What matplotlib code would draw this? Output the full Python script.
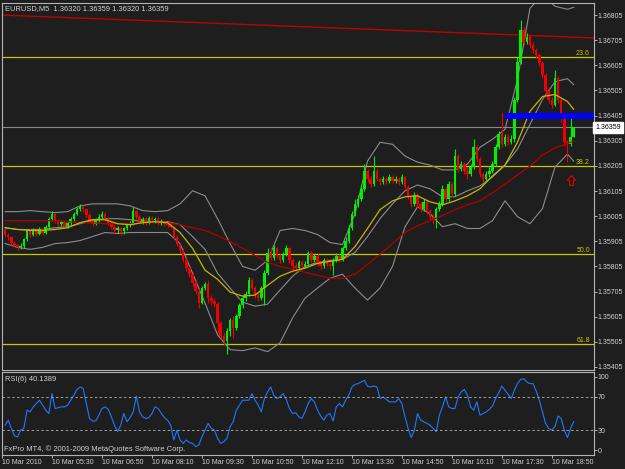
"""EURUSD M5 chart: candles, Bollinger bands, moving averages, Fibonacci levels and RSI(6)."""

import matplotlib

matplotlib.use("Agg")
import matplotlib.pyplot as plt
import numpy as np

plt.rcParams["font.family"] = ["Liberation Sans", "DejaVu Sans"]

# ---- price data (M5 bars) ---------------------------------------------------
first_open = 1.35948
closes = [
    1.35932, 1.35924, 1.35900, 1.35892, 1.35881, 1.35888, 1.35916, 1.35944, 1.35932, 1.35948,
    1.35936, 1.35952, 1.35940, 1.35963, 1.35995, 1.36015, 1.35987, 1.35975, 1.35983, 1.35967,
    1.35979, 1.35995, 1.36015, 1.36035, 1.36042, 1.36035, 1.36011, 1.35987, 1.35975, 1.35991,
    1.36003, 1.36015, 1.35995, 1.35979, 1.35963, 1.35948, 1.35959, 1.35944, 1.35956, 1.35971,
    1.35979, 1.36027, 1.36003, 1.35987, 1.35995, 1.35983, 1.35999, 1.35991, 1.35995, 1.35979,
    1.35987, 1.35975, 1.35971, 1.35963, 1.35924, 1.35896, 1.35869, 1.35829, 1.35798, 1.35774,
    1.35738, 1.35707, 1.35659, 1.35719, 1.35734, 1.35679, 1.35667, 1.35655, 1.35580, 1.35529,
    1.35509, 1.35549, 1.35592, 1.35561, 1.35608, 1.35651, 1.35679, 1.35695, 1.35750, 1.35719,
    1.35691, 1.35679, 1.35719, 1.35778, 1.35857, 1.35837, 1.35877, 1.35845, 1.35829, 1.35853,
    1.35877, 1.35829, 1.35805, 1.35798, 1.35821, 1.35805, 1.35813, 1.35857, 1.35829, 1.35845,
    1.35817, 1.35805, 1.35829, 1.35813, 1.35805, 1.35829, 1.35845, 1.35829, 1.35877, 1.35908,
    1.35956, 1.36015, 1.36054, 1.36074, 1.36114, 1.36185, 1.36153, 1.36133, 1.36185, 1.36153,
    1.36141, 1.36153, 1.36145, 1.36161, 1.36145, 1.36153, 1.36141, 1.36161, 1.36121, 1.36082,
    1.36054, 1.36090, 1.36054, 1.36035, 1.36062, 1.36027, 1.36003, 1.35991, 1.36035, 1.36054,
    1.36114, 1.36074, 1.36133, 1.36094, 1.36244, 1.36193, 1.36212, 1.36185, 1.36173, 1.36200,
    1.36279, 1.36232, 1.36173, 1.36153, 1.36173, 1.36185, 1.36212, 1.36279, 1.36331, 1.36291,
    1.36319, 1.36299, 1.36311, 1.36469, 1.36619, 1.36746, 1.36698, 1.36718, 1.36686, 1.36667,
    1.36647, 1.36615, 1.36568, 1.36501, 1.36469, 1.36449, 1.36556, 1.36469, 1.36390, 1.36299,
    1.36291, 1.36320, 1.36359,
]
highs = [
    1.35956, 1.35940, 1.35928, 1.35908, 1.35896, 1.35900, 1.35920, 1.35952, 1.35956, 1.35956,
    1.35952, 1.35963, 1.35959, 1.35971, 1.36003, 1.36027, 1.36019, 1.35995, 1.35991, 1.35987,
    1.35987, 1.36003, 1.36023, 1.36042, 1.36054, 1.36050, 1.36038, 1.36019, 1.35995, 1.35999,
    1.36015, 1.36027, 1.36023, 1.36003, 1.35987, 1.35971, 1.35967, 1.35963, 1.35963, 1.35979,
    1.35987, 1.36042, 1.36031, 1.36011, 1.36003, 1.36003, 1.36007, 1.36007, 1.36003, 1.36003,
    1.35995, 1.35991, 1.35983, 1.35979, 1.35967, 1.35932, 1.35900, 1.35877, 1.35837, 1.35805,
    1.35782, 1.35746, 1.35715, 1.35726, 1.35742, 1.35750, 1.35691, 1.35679, 1.35663, 1.35588,
    1.35541, 1.35561, 1.35600, 1.35608, 1.35616, 1.35659, 1.35691, 1.35707, 1.35762, 1.35758,
    1.35726, 1.35703, 1.35726, 1.35790, 1.35877, 1.35877, 1.35892, 1.35884, 1.35857, 1.35861,
    1.35892, 1.35884, 1.35837, 1.35817, 1.35829, 1.35829, 1.35825, 1.35865, 1.35865, 1.35853,
    1.35853, 1.35825, 1.35837, 1.35837, 1.35821, 1.35837, 1.35857, 1.35853, 1.35888, 1.35924,
    1.35971, 1.36027, 1.36074, 1.36090, 1.36129, 1.36212, 1.36193, 1.36165, 1.36244, 1.36193,
    1.36161, 1.36165, 1.36161, 1.36173, 1.36169, 1.36165, 1.36161, 1.36173, 1.36165, 1.36129,
    1.36090, 1.36102, 1.36098, 1.36062, 1.36074, 1.36070, 1.36035, 1.36015, 1.36042, 1.36066,
    1.36129, 1.36121, 1.36145, 1.36141, 1.36272, 1.36252, 1.36224, 1.36220, 1.36200, 1.36212,
    1.36311, 1.36287, 1.36240, 1.36181, 1.36185, 1.36200, 1.36224, 1.36291, 1.36343, 1.36418,
    1.36331, 1.36331, 1.36327, 1.36481, 1.36639, 1.36785, 1.36757, 1.36734, 1.36726, 1.36698,
    1.36674, 1.36655, 1.36623, 1.36576, 1.36509, 1.36481, 1.36588, 1.36564, 1.36477, 1.36398,
    1.36307, 1.36410, 1.36359,
]
lows = [
    1.35924, 1.35912, 1.35892, 1.35881, 1.35869, 1.35873, 1.35877, 1.35908, 1.35924, 1.35928,
    1.35928, 1.35932, 1.35932, 1.35936, 1.35956, 1.35987, 1.35979, 1.35967, 1.35967, 1.35959,
    1.35956, 1.35971, 1.35987, 1.36011, 1.36027, 1.36023, 1.36003, 1.35979, 1.35967, 1.35971,
    1.35983, 1.35995, 1.35987, 1.35971, 1.35952, 1.35936, 1.35940, 1.35932, 1.35936, 1.35948,
    1.35963, 1.35971, 1.35995, 1.35979, 1.35975, 1.35971, 1.35975, 1.35983, 1.35979, 1.35971,
    1.35971, 1.35967, 1.35963, 1.35956, 1.35916, 1.35888, 1.35857, 1.35821, 1.35786, 1.35762,
    1.35726, 1.35695, 1.35640, 1.35655, 1.35711, 1.35659, 1.35651, 1.35643, 1.35541, 1.35517,
    1.35493, 1.35458, 1.35529, 1.35521, 1.35553, 1.35600, 1.35640, 1.35667, 1.35687, 1.35711,
    1.35679, 1.35667, 1.35671, 1.35651, 1.35770, 1.35829, 1.35829, 1.35837, 1.35817, 1.35821,
    1.35845, 1.35817, 1.35790, 1.35786, 1.35790, 1.35794, 1.35798, 1.35805, 1.35821, 1.35821,
    1.35805, 1.35794, 1.35798, 1.35805, 1.35794, 1.35770, 1.35821, 1.35821, 1.35825, 1.35869,
    1.35900, 1.35948, 1.36007, 1.36042, 1.36066, 1.36106, 1.36141, 1.36121, 1.36125, 1.36145,
    1.36129, 1.36133, 1.36133, 1.36137, 1.36137, 1.36137, 1.36129, 1.36133, 1.36114, 1.36074,
    1.36042, 1.36046, 1.36042, 1.36023, 1.36027, 1.36015, 1.35991, 1.35975, 1.35956, 1.36027,
    1.36046, 1.36062, 1.36066, 1.36082, 1.36086, 1.36181, 1.36185, 1.36173, 1.36153, 1.36165,
    1.36193, 1.36220, 1.36161, 1.36141, 1.36145, 1.36161, 1.36177, 1.36204, 1.36272, 1.36279,
    1.36283, 1.36287, 1.36291, 1.36299, 1.36461, 1.36611, 1.36686, 1.36690, 1.36674, 1.36655,
    1.36635, 1.36603, 1.36556, 1.36489, 1.36457, 1.36437, 1.36442, 1.36457, 1.36378, 1.36283,
    1.36220, 1.36283, 1.36320,
]

# ---- indicator lines, read every 4th bar (plus the last bar) ----------------
ind_bars = list(range(0, 181, 4)) + [182]
fast_ma = [
    1.35959, 1.35952, 1.35948, 1.35948, 1.35952, 1.35959, 1.35979, 1.35991, 1.35991, 1.35975,
    1.35971, 1.35979, 1.35983, 1.35979, 1.35940, 1.35877, 1.35790, 1.35754, 1.35703, 1.35687,
    1.35691, 1.35730, 1.35766, 1.35786, 1.35798, 1.35817, 1.35825, 1.35833, 1.35884, 1.35956,
    1.36031, 1.36066, 1.36082, 1.36086, 1.36062, 1.36050, 1.36066, 1.36086, 1.36114, 1.36165,
    1.36208, 1.36299, 1.36422, 1.36481, 1.36489, 1.36461, 1.36430,
]
slow_ma = [
    1.35987, 1.35987, 1.35987, 1.35987, 1.35987, 1.35983, 1.35979, 1.35979, 1.35975, 1.35975,
    1.35975, 1.35979, 1.35983, 1.35979, 1.35971, 1.35959, 1.35948, 1.35928, 1.35904, 1.35877,
    1.35849, 1.35821, 1.35805, 1.35794, 1.35782, 1.35770, 1.35758, 1.35758, 1.35774, 1.35813,
    1.35853, 1.35896, 1.35940, 1.35967, 1.35987, 1.36007, 1.36031, 1.36050, 1.36066, 1.36098,
    1.36133, 1.36169, 1.36204, 1.36248, 1.36276, 1.36295, 1.36303,
]
bb_upper = [
    1.36023, 1.36023, 1.36027, 1.36023, 1.36019, 1.36023, 1.36046, 1.36054, 1.36054, 1.36054,
    1.36046, 1.36027, 1.36023, 1.36027, 1.36054, 1.36106, 1.36086, 1.35995, 1.35896, 1.35805,
    1.35790, 1.35829, 1.35948, 1.35956, 1.35948, 1.35932, 1.35900, 1.35892, 1.36015, 1.36224,
    1.36299, 1.36291, 1.36244, 1.36220, 1.36208, 1.36189, 1.36189, 1.36212, 1.36279, 1.36311,
    1.36350, 1.36548, 1.36832, 1.36884, 1.36840, 1.36828, 1.36836,
]
bb_middle = [
    1.35959, 1.35952, 1.35952, 1.35952, 1.35959, 1.35963, 1.35975, 1.35987, 1.35995, 1.35995,
    1.35991, 1.35983, 1.35983, 1.35983, 1.35971, 1.35924, 1.35873, 1.35778, 1.35719, 1.35663,
    1.35647, 1.35655, 1.35711, 1.35766, 1.35805, 1.35821, 1.35829, 1.35833, 1.35861, 1.35924,
    1.35995, 1.36054, 1.36106, 1.36129, 1.36114, 1.36082, 1.36082, 1.36106, 1.36125, 1.36161,
    1.36208, 1.36272, 1.36370, 1.36469, 1.36540, 1.36552, 1.36528,
]
bb_lower = [
    1.35896, 1.35881, 1.35873, 1.35881, 1.35896, 1.35900, 1.35908, 1.35924, 1.35940, 1.35936,
    1.35940, 1.35940, 1.35940, 1.35940, 1.35896, 1.35778, 1.35659, 1.35533, 1.35474, 1.35470,
    1.35481, 1.35466, 1.35501, 1.35600, 1.35679, 1.35719, 1.35758, 1.35774, 1.35719, 1.35671,
    1.35719, 1.35805, 1.35963, 1.36042, 1.36015, 1.35963, 1.35975, 1.35956, 1.35956, 1.35987,
    1.36066, 1.36003, 1.35975, 1.36035, 1.36200, 1.36252, 1.36224,
]

# ---- RSI(6), one value per bar ---------------------------------------------
rsi = [
    36, 42, 32, 23, 22, 30, 32, 54, 52, 58,
    62, 66, 60, 54, 50, 74, 56, 57, 58, 58,
    60, 66, 72, 79, 82, 80, 62, 44, 41, 41,
    48, 56, 58, 55, 46, 36, 28, 36, 50, 40,
    45, 52, 71, 52, 46, 44, 45, 50, 58, 56,
    50, 45, 42, 36, 18, 30, 18, 14, 18, 15,
    14, 10, 12, 22, 30, 38, 32, 30, 20, 14,
    16, 20, 34, 40, 54, 60, 66, 66, 66, 74,
    66, 60, 52, 68, 76, 82, 72, 68, 70, 74,
    67, 56, 50, 51, 46, 44, 52, 62, 68, 64,
    54, 47, 42, 48, 50, 41, 58, 62, 58, 66,
    72, 82, 85, 86, 88, 90, 83, 82, 83, 82,
    68, 70, 67, 64, 64, 64, 68, 62, 46, 32,
    21, 30, 50, 42, 40, 38, 36, 32, 28, 48,
    58, 70, 58, 56, 56, 70, 76, 79, 72, 58,
    54, 64, 48, 50, 52, 55, 59, 68, 75, 83,
    78, 73, 68, 78, 86, 91, 92, 88, 86, 86,
    77, 66, 52, 38, 32, 30, 34, 47, 44, 30,
    21, 32, 40.1389,
]
rsi_levels = [70, 30]
rsi_scale = ["100", "70", "30", "0"]

# ---- drawn objects ---------------------------------------------------------
fib_labels = ["23.6", "38.2", "50.0", "61.8"]
fib_prices = [1.36639, 1.36204, 1.35853, 1.35497]
trend_bars = [-1, 188.5]
trend_prices = [1.36805, 1.36714]
zone_start_bar = 160
zone_prices = [1.36390, 1.36414]
arrow_bar = 181
arrow_price = 1.36149

time_bars = [-1, 15, 31, 47, 63, 79, 95, 111, 127, 143, 159, 175]
time_labels = [
    "10 Mar 2010", "10 Mar 05:30", "10 Mar 06:50", "10 Mar 08:10",
    "10 Mar 09:30", "10 Mar 10:50", "10 Mar 12:10", "10 Mar 13:30",
    "10 Mar 14:50", "10 Mar 16:10", "10 Mar 17:30", "10 Mar 18:50",
]
price_ticks = [round(1.36805 - 0.001 * k, 5) for k in range(15)]

# ---- colours ---------------------------------------------------------------
BG = "#1e1e1e"
FRAME = "#b4b4b4"
TEXT = "#d2d2d2"
UP = "#00f000"
DOWN = "#f00000"
YELLOW = "#c8c800"
GRAY = "#8c8c8c"
FS = 5.0

W, H = 625, 469
fig = plt.figure(figsize=(W / 100, H / 100), dpi=100, facecolor=BG)


def px_axes(left, top, right, bottom):
    return fig.add_axes([left / W, 1 - bottom / H, (right - left) / W, (bottom - top) / H])


ax = px_axes(2, 3, 594, 370)
rax = px_axes(2, 372, 594, 455)

for a in (ax, rax):
    a.set_facecolor(BG)
    for sp in a.spines.values():
        sp.set_color(FRAME)
        sp.set_linewidth(0.8)
    a.set_xlim(-1, 188.5)
    a.yaxis.tick_right()
    a.tick_params(axis="both", colors=FRAME, labelcolor=TEXT, labelsize=FS,
                  length=2, width=0.7, direction="out", pad=0.8)

# candles
closes_a = np.array(closes)
opens_a = np.r_[first_open, closes_a[:-1]]
highs_a = np.maximum(np.array(highs), np.maximum(opens_a, closes_a))
lows_a = np.minimum(np.array(lows), np.minimum(opens_a, closes_a))
bars = np.arange(len(closes_a))
cols = np.where(closes_a >= opens_a, UP, DOWN)

# fibonacci levels and lines behind the candles
for lab, p in zip(fib_labels, fib_prices):
    ax.axhline(p, color=YELLOW, lw=0.9, zorder=1)
    ax.text(0.993, p, lab, transform=ax.get_yaxis_transform(), color=YELLOW,
            fontsize=FS, ha="right", va="bottom")

ax.plot(trend_bars, trend_prices, color="#c00000", lw=1.0, zorder=2)
ax.plot(ind_bars, bb_upper, color=GRAY, lw=0.8, zorder=2)
ax.plot(ind_bars, bb_middle, color=GRAY, lw=0.8, zorder=2)
ax.plot(ind_bars, bb_lower, color=GRAY, lw=0.8, zorder=2)

ax.vlines(bars, lows_a, highs_a, colors=cols, lw=0.8, zorder=3)
body_low = np.minimum(opens_a, closes_a)
body_h = np.maximum(np.abs(closes_a - opens_a), 0.00003)
ax.bar(bars, body_h, bottom=body_low, width=0.8, color=cols, linewidth=0, zorder=3)

ax.plot(ind_bars, slow_ma, color="#b40000", lw=0.9, zorder=4)
ax.plot(ind_bars, fast_ma, color="#c8b400", lw=0.9, zorder=4)

# blue zone, bid line and price tag
ax.fill_between([zone_start_bar, 188.5], zone_prices[0], zone_prices[1],
                color="#0000ff", lw=0, zorder=5)
last = closes[-1]
ax.axhline(last, color="#8a8a8a", lw=0.8, zorder=2)
ax.text(1.002, last, f"{last:.5f}", transform=ax.get_yaxis_transform(),
        fontsize=FS, color="black", va="center", ha="left", clip_on=False,
        bbox=dict(boxstyle="square,pad=0.3", fc="white", ec="white"))

# up-arrow mark below the last bars
arrow = [(0, 1), (-0.9, 0.05), (-0.4, 0.05), (-0.4, -1), (0.4, -1), (0.4, 0.05), (0.9, 0.05), (0, 1)]
ax.plot([arrow_bar], [arrow_price], marker=arrow, markersize=7, markerfacecolor="none",
        markeredgecolor="#e00000", markeredgewidth=0.8, linestyle="none", zorder=6)

ax.set_ylim(1.35393, 1.36853)
ax.set_yticks(price_ticks)
ax.set_yticklabels([f"{p:.5f}" for p in price_ticks])
ax.set_xticks([])

# RSI panel
rax.plot(bars, rsi, color="#1e78ff", lw=0.8)
for lvl in rsi_levels:
    rax.axhline(lvl, color="#a0a0a0", lw=0.7, linestyle=(0, (2.5, 2.5)))
rax.set_ylim(0, 100)
rax.set_yticks([94, 70, 30, 6])
rax.set_yticklabels(rsi_scale)
rax.set_xticks(time_bars)
rax.set_xticklabels(time_labels, ha="left")

# header texts
o, h, l, c = opens_a[-1], highs_a[-1], lows_a[-1], closes_a[-1]
fig.text(5 / W, 1 - 9 / H, f"EURUSD,M5  {o:.5f} {h:.5f} {l:.5f} {c:.5f}",
         color=TEXT, fontsize=5.4, va="center")
fig.text(5 / W, 1 - 379 / H, f"RSI(6) {rsi[-1]:.4f}", color=TEXT, fontsize=5.4, va="center")
fig.text(4 / W, 1 - 449 / H, "FxPro MT4, \u00a9 2001-2009 MetaQuotes Software Corp.",
         color=TEXT, fontsize=5.4, va="center")

fig.savefig("out.png", dpi=100, facecolor=BG)
